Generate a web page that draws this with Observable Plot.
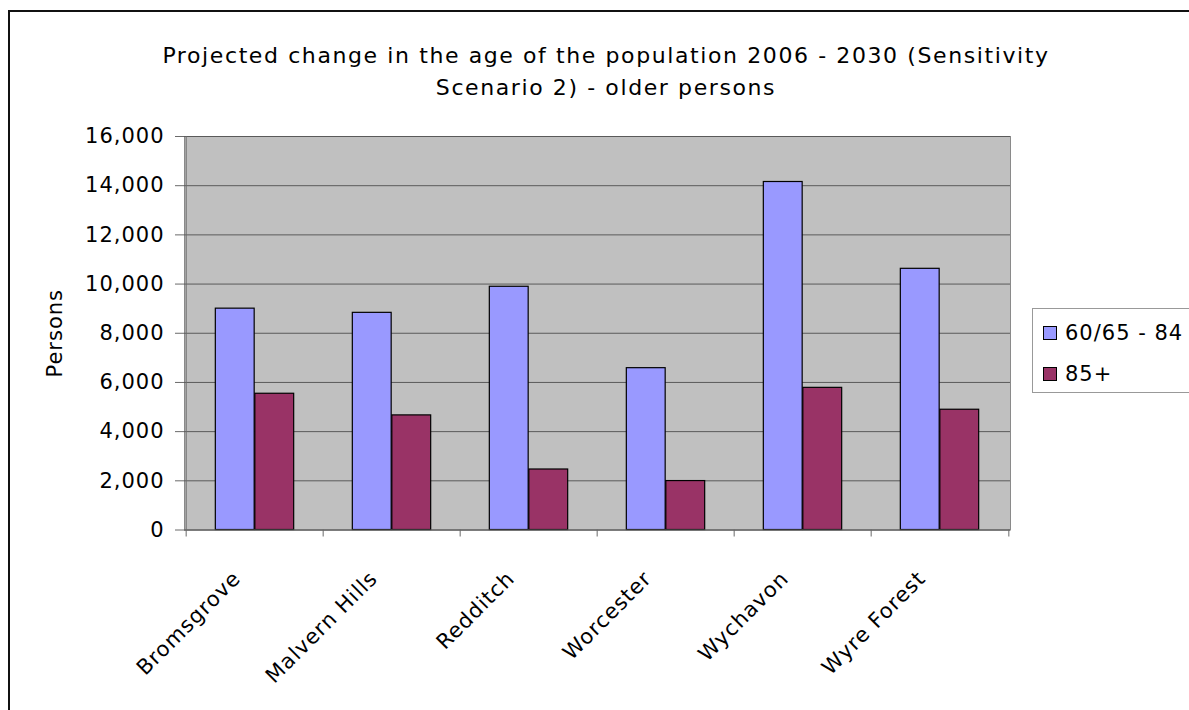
<!DOCTYPE html>
<html>
<head>
<meta charset="utf-8">
<script src="https://cdn.jsdelivr.net/npm/d3@7"></script>
<script src="https://cdn.jsdelivr.net/npm/@observablehq/plot@0.6"></script>
<style>
  body { margin: 0; background: #fff; font-family: "DejaVu Sans", sans-serif; }
  #page { position: relative; width: 1189px; height: 710px; overflow: hidden; }
  #frame { position: absolute; left: 8px; top: 10px; width: 1300px; height: 800px;
           border-left: 2px solid #111; border-top: 2px solid #111; }
  #title { position: absolute; left: 56px; width: 1100px; top: 40px; text-align: center;
           font-size: 22px; letter-spacing: 1.6px; line-height: 32px; color: #000; }
  #chart { position: absolute; left: 0; top: 110px; }
  #legend { position: absolute; left: 1032px; top: 308px; width: 170px; height: 83px;
            border: 1px solid #999; background: #fff; font-size: 21px; letter-spacing: 1px; }
  .row { position: absolute; left: 10px; display: flex; align-items: center; }
  .sw { width: 12px; height: 12px; border: 1px solid #000; margin-right: 8px; }
</style>
</head>
<body>
<div id="page">
  <div id="frame"></div>
  <div id="title">Projected change in the age of the population 2006 - 2030 (Sensitivity<br>Scenario 2) - older persons</div>
  <div id="chart"></div>
  <div id="legend"></div>
</div>
<script>
const categories = ["Bromsgrove", "Malvern Hills", "Redditch", "Worcester", "Wychavon", "Wyre Forest"];
const seriesNames = ["60/65 - 84", "85+"];
const values6584 = [9000, 8830, 9890, 6580, 14150, 10620];
const values85 = [5540, 4660, 2460, 1990, 5780, 4890];
const yTicks = [0, 2000, 4000, 6000, 8000, 10000, 12000, 14000, 16000];
const colors = ["#9999ff", "#993366"];

const rows = [];
categories.forEach((c, i) => {
  rows.push({cat: c, series: seriesNames[0], value: values6584[i]});
  rows.push({cat: c, series: seriesNames[1], value: values85[i]});
});

const W = 1189, H = 600;
const mL = 184, mR = 179, mT = 26, mB = 180.5;
const bw = (W - mL - mR) / categories.length;
const groupFrac = 0.574;
const outerInset = bw * (1 - groupFrac) / 2;

const plot = Plot.plot({
  width: W, height: H,
  marginLeft: mL, marginRight: mR, marginTop: mT, marginBottom: mB,
  style: {fontFamily: "DejaVu Sans, sans-serif", fontSize: "21px", letterSpacing: "1px", color: "#000", background: "transparent"},
  x: {domain: categories, padding: 0, axis: null},
  y: {domain: [0, 16000], axis: null},
  color: {domain: seriesNames, range: colors},
  marks: [
    Plot.frame({fill: "#c0c0c0", stroke: "#8a8a8a"}),
    Plot.gridY(yTicks, {stroke: "#5a5a5a", strokeOpacity: 1, strokeWidth: 1}),
    Plot.barY(rows.filter(d => d.series === seriesNames[0]), {
      x: "cat", y: "value", fill: "series", stroke: "#000", strokeWidth: 1.2,
      insetLeft: outerInset, insetRight: bw / 2
    }),
    Plot.barY(rows.filter(d => d.series === seriesNames[1]), {
      x: "cat", y: "value", fill: "series", stroke: "#000", strokeWidth: 1.2,
      insetLeft: bw / 2, insetRight: outerInset
    }),
    Plot.ruleY([0], {stroke: "#6a6a6a"}),
    Plot.ruleX([categories[0]], {x: d => d, dx: -bw / 2, stroke: "#6a6a6a"}),
    Plot.axisY(yTicks, {
      tickFormat: d3.format(","), tickSize: 9, tickPadding: 11, stroke: "#6a6a6a",
      fontSize: 21, label: "Persons", labelAnchor: "center", labelArrow: "none", labelOffset: 137
    }),
    Plot.axisX(categories, {tickSize: 7, text: null, label: null, dx: -bw / 2, stroke: "#6a6a6a"}),
    Plot.axisX([categories[categories.length - 1]], {tickSize: 7, text: null, label: null, dx: bw / 2, stroke: "#6a6a6a"}),
    Plot.axisX(categories, {tickSize: 0, tickRotate: -45, tickPadding: 45, fontSize: 21, label: null, dx: -18})
  ]
});
document.getElementById("chart").appendChild(plot);

const legend = document.getElementById("legend");
seriesNames.forEach((s, i) => {
  const row = document.createElement("div");
  row.className = "row";
  row.style.top = (i === 0 ? 12 : 53) + "px";
  row.innerHTML = `<div class="sw" style="background:${colors[i]}"></div><span>${s}</span>`;
  legend.appendChild(row);
});
</script>
</body>
</html>
